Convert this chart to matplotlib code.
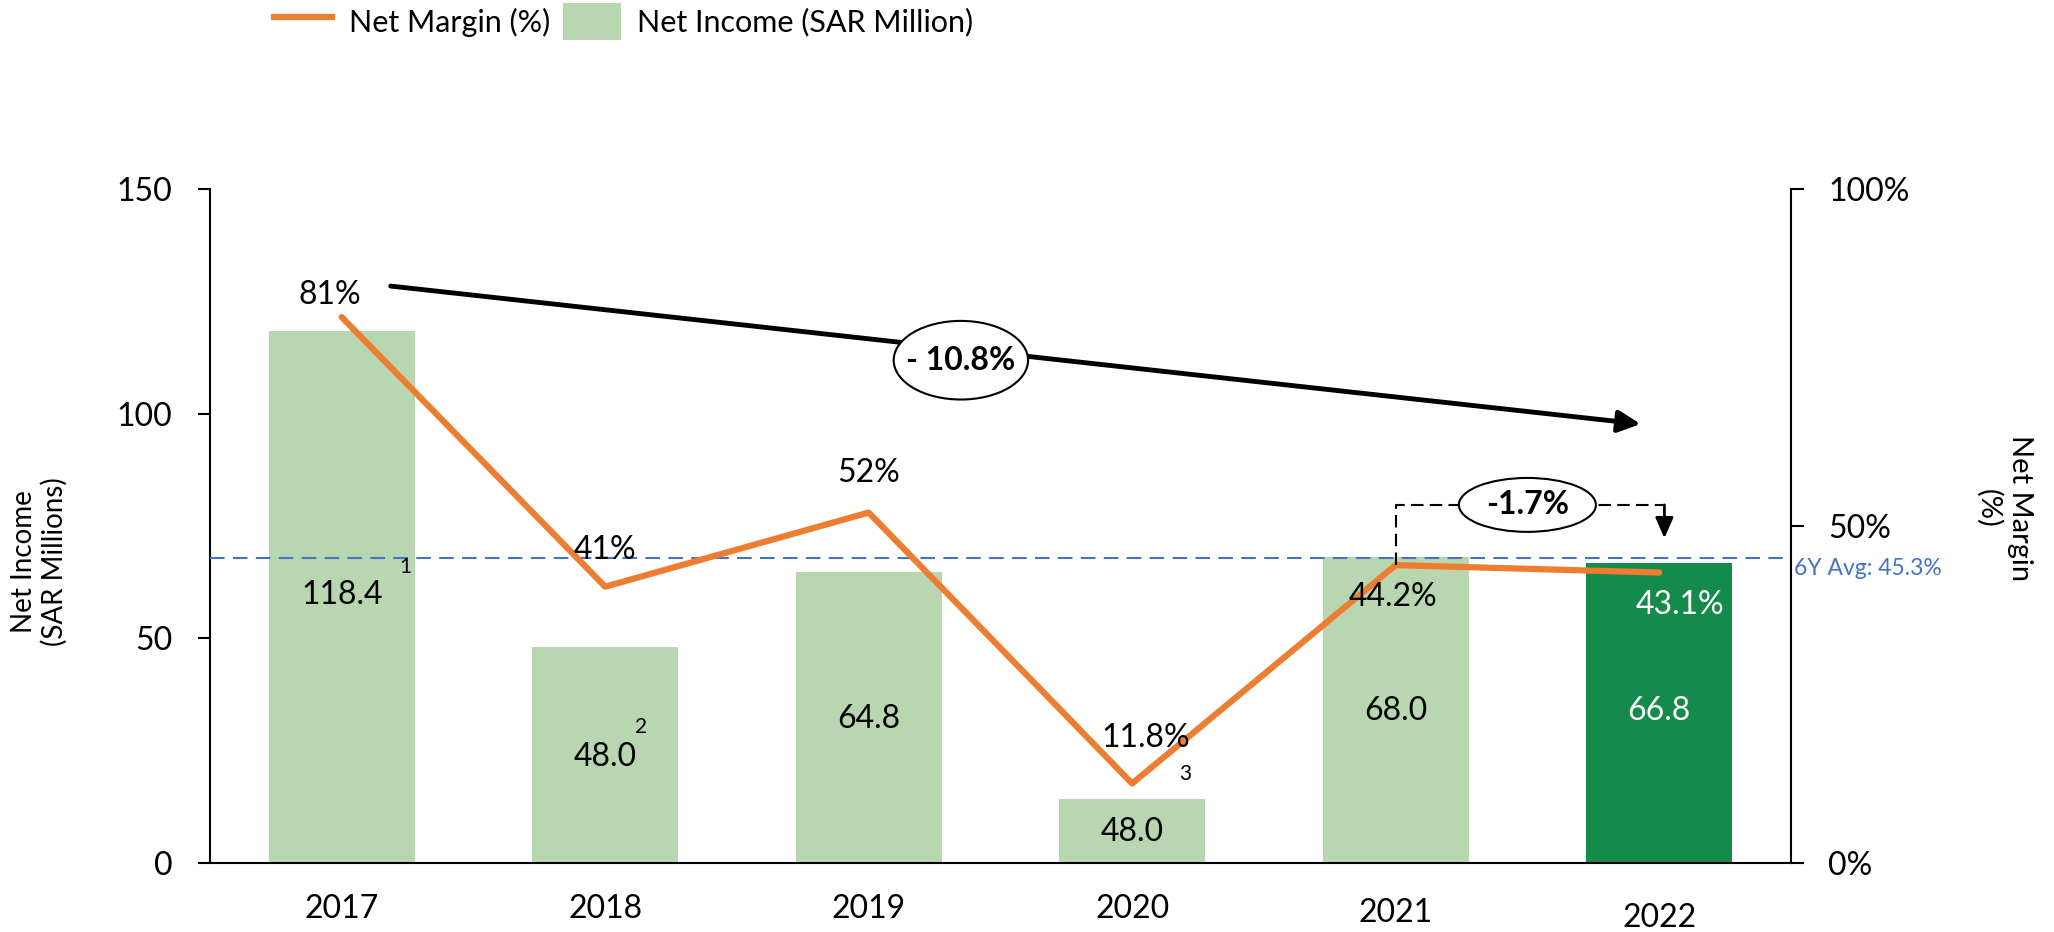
import matplotlib
matplotlib.use("Agg")
import matplotlib.pyplot as plt
from matplotlib.lines import Line2D
from matplotlib.patches import Patch, Ellipse

plt.rcParams['font.family'] = ['Lato', 'DejaVu Sans']

# ---- data ----
years = ["2017", "2018", "2019", "2020", "2021", "2022"]
net_income = [118.4, 48.0, 64.8, 14.2, 68.0, 66.8]          # bar heights as drawn
income_labels = ["118.4", "48.0", "64.8", "48.0", "68.0", "66.8"]
net_margin = [81.0, 41.0, 52.0, 11.8, 44.2, 43.1]           # %
margin_labels = ["81%", "41%", "52%", "11.8%", "44.2%", "43.1%"]
footnotes = ["1", "2", "3"]
avg_margin = 45.3
trend_label = "- 10.8%"
yoy_label = "-1.7%"

# ---- colours ----
ORANGE = '#ED7D31'
LIGHT_GREEN = '#B8D7B1'
DARK_GREEN = '#148B4B'
BLUE = '#4472C4'

fig = plt.figure(figsize=(20.54, 9.32), dpi=100)
ax = fig.add_axes([0.1022, 0.0740, 0.7697, 0.7232])
ax2 = ax.twinx()

x = list(range(len(years)))
bar_colors = [LIGHT_GREEN] * (len(years) - 1) + [DARK_GREEN]
ax.bar(x, net_income, width=0.555, color=bar_colors, zorder=2)
ax.set_xlim(-0.5, 5.5)
ax.set_ylim(0, 150)
ax.set_yticks([0, 50, 100, 150])
ax.set_xticks([])

ax2.set_ylim(0, 100)
ax2.set_yticks([0, 50, 100])
ax2.set_yticklabels(["0%", "50%", "100%"])
ax2.plot(x, net_margin, color=ORANGE, lw=4.5, solid_capstyle='round', zorder=3)
ax2.axhline(avg_margin, color=BLUE, lw=1.5, dashes=(7, 4), zorder=2)

for a in (ax, ax2):
    a.spines['top'].set_visible(False)
    a.tick_params(axis='y', length=9, width=1.5, pad=18, labelsize=23)
ax.spines['right'].set_visible(False)
ax2.spines['left'].set_visible(False)
for s in ('left', 'bottom'):
    ax.spines[s].set_linewidth(1.5)
ax2.spines['right'].set_linewidth(1.5)
ax2.spines['bottom'].set_visible(False)

# year labels (slightly staggered like the original)
year_off = [-0.068, -0.068, -0.068, -0.068, -0.074, -0.082]
for xi, yr, yo in zip(x, years, year_off):
    ax.text(xi, yo, yr, transform=ax.get_xaxis_transform(), ha='center', va='center', fontsize=23)

# axis titles
fig.text(0.0115, 0.397, "Net Income", rotation=90, ha='center', va='center', fontsize=20)
fig.text(0.0265, 0.397, "(SAR Millions)", rotation=90, ha='center', va='center', fontsize=20)
fig.text(0.9835, 0.455, "Net Margin", rotation=270, ha='center', va='center', fontsize=21)
fig.text(0.9680, 0.455, "(%)", rotation=270, ha='center', va='center', fontsize=21)

T = ax.transData
# bar value labels
income_pos = [(0.0, 59.6), (1.0, 23.6), (2.0, 32.0), (3.0, 6.9), (4.0, 33.8), (5.0, 33.8)]
for i, ((px, py), lab) in enumerate(zip(income_pos, income_labels)):
    ax2.text(px, py, lab, transform=T, ha='center', va='center', fontsize=23,
             color='white' if i == len(years) - 1 else 'black', zorder=5)

# margin labels
margin_pos = [(-0.045, 126.4), (1.0, 69.7), (2.0, 86.8), (3.05, 27.8), (3.99, 59.2), (5.08, 57.4)]
for i, ((px, py), lab) in enumerate(zip(margin_pos, margin_labels)):
    ax2.text(px, py, lab, transform=T, ha='center', va='center', fontsize=23,
             color='white' if i == len(years) - 1 else 'black', zorder=5)

# footnote markers
foot_pos = [(0.243, 65.9), (1.135, 30.3), (3.2, 19.8)]
for (px, py), lab in zip(foot_pos, footnotes):
    ax2.text(px, py, lab, transform=T, ha='center', va='center', fontsize=15, zorder=5)

# average label
ax2.text(1.002, avg_margin - 1.6, f"6Y Avg: {avg_margin}%", transform=ax2.get_yaxis_transform(),
         ha='left', va='center', fontsize=16.5, color=BLUE, clip_on=False)

# long-term trend arrow
ax2.annotate('', xy=(4.93, 97.7), xytext=(0.186, 128.4), xycoords=T, textcoords=T,
             arrowprops=dict(arrowstyle='-|>,head_length=0.45,head_width=0.22', lw=3.5,
                             color='black', mutation_scale=30, shrinkA=0, shrinkB=0), zorder=6)
ax2.add_patch(Ellipse((2.35, 111.9), 0.51, 17.5, transform=T, facecolor='white',
                      edgecolor='black', lw=1.5, zorder=7))
ax2.text(2.35, 111.9, trend_label, transform=T, ha='center', va='center', fontsize=23,
         fontweight='bold', zorder=8)

# year-over-year bracket
ax2.plot([4.0, 4.0, 5.02], [66.3, 79.7, 79.7], transform=T, color='black', lw=1.5,
         dashes=(6, 3), zorder=6)
ax2.annotate('', xy=(5.02, 72.3), xytext=(5.02, 79.7), xycoords=T, textcoords=T,
             arrowprops=dict(arrowstyle='-|>,head_length=0.5,head_width=0.22', lw=2,
                             color='black', mutation_scale=25, shrinkA=0, shrinkB=0), zorder=6)
ax2.add_patch(Ellipse((4.50, 79.7), 0.52, 12.0, transform=T, facecolor='white',
                      edgecolor='black', lw=1.5, zorder=7))
ax2.text(4.50, 79.7, yoy_label, transform=T, ha='center', va='center', fontsize=23,
         fontweight='bold', zorder=8)

# legend
handles = [Line2D([0], [0], color=ORANGE, lw=4.5),
           Patch(facecolor=LIGHT_GREEN, edgecolor='none')]
fig.legend(handles, ["Net Margin (%)", "Net Income (SAR Million)"], loc='upper left',
           bbox_to_anchor=(0.132, 1.0), ncol=2, frameon=False, fontsize=22,
           handlelength=1.9, handleheight=1.5, handletextpad=0.55, columnspacing=0.4,
           borderpad=0.1, borderaxespad=0)

fig.savefig("out.png", dpi=100, facecolor='white')
